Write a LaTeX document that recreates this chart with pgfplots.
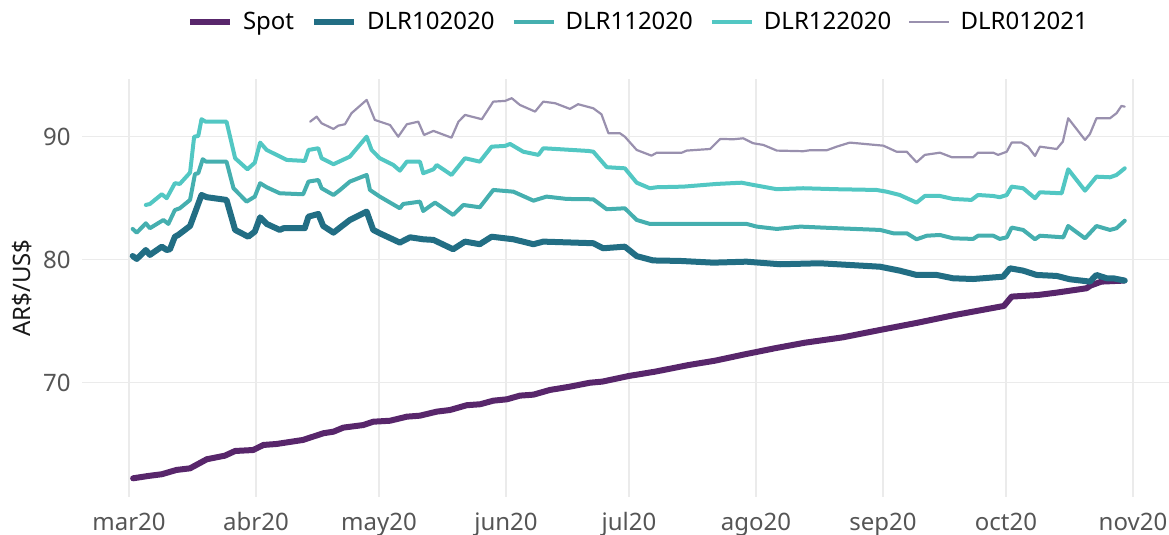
\documentclass[border=0pt]{standalone}
\usepackage{pgfplots}
\pgfplotsset{compat=1.18}
\usepackage{fontspec}
\setmainfont{Noto Sans}
\definecolor{cspot}{HTML}{58266B}
\definecolor{cten}{HTML}{226E84}
\definecolor{celev}{HTML}{45AFAF}
\definecolor{ctwel}{HTML}{52C7C3}
\definecolor{cjan}{HTML}{9990AE}
\definecolor{gridgray}{HTML}{EBEBEB}
\definecolor{tickgray}{HTML}{555555}
\begin{document}
\fontsize{12bp}{14bp}\selectfont
\begin{tikzpicture}
\begin{axis}[
  scale only axis, width=543.5bp, height=209bp,
  at={(0,0)}, anchor=south west,
  xmin=-11.47, xmax=253.8, ymin=60.69, ymax=94.67,
  axis line style={draw=none}, tick style={draw=none},
  xtick={0,31,61,92,122,153,184,214,245},
  xticklabels={mar20,abr20,may20,jun20,jul20,ago20,sep20,oct20,nov20},
  ytick={70,80,90}, yticklabels={70,80,90},
  /pgf/number format/assume math mode=true,
  grid=major, grid style={color=gridgray, line width=0.9bp},
  xticklabel style={font=\fontsize{12bp}{14bp}\selectfont, text=tickgray, inner sep=0pt, anchor=base, yshift=-16.5bp},
  yticklabel style={font=\fontsize{12bp}{14bp}\selectfont, text=tickgray, inner sep=0pt, anchor=east, xshift=-5.5bp},
  ylabel={AR\$/US\$},
  every axis y label/.style={at={(axis description cs:-0.0552,0.5)}, rotate=90, anchor=center, font=\fontsize{12bp}{14bp}\selectfont, text=black!90},
  legend columns=5,
  legend style={at={(axis description cs:0.511,1.136)}, anchor=center, draw=none, fill=none,
    font=\fontsize{12bp}{14bp}\selectfont,
    /tikz/every even column/.append style={column sep=8.5bp},
    /tikz/every odd column/.append style={column sep=5bp},
    nodes={inner sep=0pt}},
  legend image code/.code={\draw[#1, line cap=butt] (0bp,0bp) -- (20bp,0bp);},
  every axis plot/.append style={line join=round, line cap=round},
]
\addplot[cspot, line width=3bp] coordinates {
(1.0,62.21)(4.7,62.40)(8.0,62.54)(11.6,62.89)(14.9,63.02)(19.0,63.76)(23.4,64.05)(25.9,64.43)(30.3,64.51)(32.8,64.92)(36.0,65.00)(42.5,65.33)(47.4,65.87)(49.9,66.00)(52.3,66.33)(57.2,66.54)(59.6,66.81)(63.7,66.89)(67.8,67.22)(71.0,67.30)(75.1,67.63)(78.3,67.76)(82.4,68.15)(85.7,68.23)(88.9,68.52)(92.2,68.63)(95.4,68.93)(98.7,69.01)(102.7,69.39)(107.6,69.66)(112.5,69.98)(115.5,70.07)(122.0,70.53)(128.4,70.88)(136.6,71.42)(143.0,71.77)(150.3,72.29)(157.6,72.78)(164.9,73.23)(174.2,73.67)(183.3,74.27)(192.5,74.86)(201.6,75.49)(213.5,76.22)(215.4,76.98)(221.8,77.11)(226.3,77.30)(233.7,77.66)(234.6,77.87)(237.3,78.20)(242.8,78.28)
};
\addlegendentry{Spot}
\addplot[cten, line width=3bp] coordinates {
(0.9,80.28)(1.9,80.04)(4.1,80.77)(5.1,80.37)(8.0,81.04)(9.2,80.77)(10.0,80.83)(11.2,81.85)(12.0,81.99)(14.9,82.72)(17.7,85.24)(19.0,85.06)(23.8,84.84)(25.9,82.40)(29.1,81.85)(30.7,82.26)(32.0,83.43)(33.6,82.89)(36.8,82.40)(37.7,82.54)(42.9,82.54)(43.8,83.48)(46.2,83.70)(47.4,82.72)(49.9,82.18)(53.9,83.21)(58.0,83.89)(59.6,82.40)(61.2,82.13)(66.1,81.37)(68.6,81.80)(71.8,81.64)(74.3,81.59)(79.1,80.83)(82.0,81.45)(85.6,81.24)(88.5,81.85)(93.8,81.64)(98.7,81.24)(101.1,81.45)(113.3,81.32)(115.7,80.91)(121.0,81.04)(123.9,80.27)(127.9,79.92)(134.5,79.88)(142.6,79.74)(150.7,79.82)(158.9,79.61)(168.6,79.69)(183.3,79.41)(188.1,79.09)(192.2,78.74)(197.1,78.74)(201.1,78.47)(206.0,78.41)(213.3,78.60)(215.0,79.28)(218.2,79.09)(221.5,78.74)(226.4,78.66)(229.6,78.39)(234.5,78.20)(236.1,78.74)(238.6,78.47)(240.2,78.47)(243.0,78.28)
};
\addlegendentry{DLR102020}
\addplot[celev, line width=2bp] coordinates {
(0.9,82.48)(1.9,82.18)(4.1,82.94)(5.1,82.54)(8.4,83.21)(9.6,82.89)(11.2,84.02)(12.4,84.16)(14.9,84.84)(16.1,86.95)(16.9,87.01)(18.0,88.15)(18.8,87.95)(23.8,87.95)(25.5,85.79)(28.7,84.70)(30.7,85.11)(32.0,86.20)(33.6,85.87)(36.8,85.38)(42.5,85.30)(43.8,86.33)(46.2,86.46)(47.0,85.79)(49.9,85.24)(51.5,85.65)(53.9,86.33)(58.0,86.87)(58.8,85.65)(61.2,85.11)(66.1,84.16)(66.9,84.51)(71.0,84.70)(71.8,83.94)(73.5,84.35)(74.7,84.62)(79.1,83.62)(81.6,84.43)(85.6,84.24)(88.9,85.65)(93.8,85.51)(98.7,84.78)(101.9,85.11)(106.8,84.92)(113.3,84.89)(116.6,84.08)(121.0,84.16)(123.9,83.21)(127.1,82.89)(134.5,82.89)(150.7,82.89)(153.2,82.67)(158.1,82.48)(163.8,82.67)(172.7,82.54)(183.3,82.40)(186.5,82.13)(189.8,82.13)(192.2,81.64)(194.7,81.93)(197.9,81.99)(201.1,81.72)(206.0,81.67)(207.2,81.93)(210.9,81.93)(212.5,81.67)(214.2,81.80)(215.4,82.59)(218.2,82.40)(221.1,81.64)(222.3,81.93)(228.0,81.80)(229.2,82.72)(233.3,81.72)(236.1,82.72)(239.4,82.40)(241.0,82.54)(243.0,83.15)
};
\addlegendentry{DLR112020}
\addplot[ctwel, line width=2bp] coordinates {
(4.1,84.43)(5.1,84.51)(8.0,85.30)(9.2,84.98)(11.2,86.20)(12.4,86.14)(14.9,87.06)(15.9,89.98)(16.9,90.04)(17.7,91.40)(18.7,91.20)(23.8,91.20)(25.9,88.23)(28.9,87.33)(30.7,87.87)(32.0,89.50)(33.6,88.90)(38.5,88.09)(42.9,88.01)(43.8,88.90)(46.2,89.04)(47.0,88.23)(49.9,87.74)(53.9,88.36)(58.0,89.98)(59.2,88.90)(61.2,88.23)(64.5,87.68)(66.1,87.22)(67.8,87.95)(71.0,87.95)(71.8,87.01)(74.3,87.33)(75.1,87.68)(78.7,86.87)(82.0,88.23)(85.6,87.95)(88.5,89.17)(91.8,89.23)(93.0,89.39)(96.2,88.76)(99.9,88.50)(101.1,89.04)(105.2,88.96)(112.1,88.82)(113.3,88.76)(116.6,87.50)(121.0,87.41)(123.9,86.24)(127.1,85.79)(128.8,85.87)(135.3,85.92)(143.4,86.14)(149.5,86.24)(152.3,86.06)(158.1,85.71)(164.5,85.79)(172.7,85.71)(182.4,85.65)(184.9,85.51)(188.1,85.24)(192.2,84.62)(194.2,85.16)(197.9,85.16)(201.1,84.92)(205.6,84.84)(207.2,85.24)(210.9,85.16)(212.5,85.06)(214.2,85.24)(215.4,85.92)(218.2,85.79)(221.1,84.98)(222.3,85.46)(227.6,85.38)(229.2,87.33)(233.3,85.59)(236.1,86.73)(239.4,86.68)(241.0,86.87)(243.0,87.41)
};
\addlegendentry{DLR122020}
\addplot[cjan, line width=1.1bp] coordinates {
(44.2,91.20)(45.8,91.61)(47.0,91.07)(49.9,90.61)(51.1,90.88)(52.7,90.99)(54.3,91.89)(58.0,92.97)(60.0,91.34)(63.7,90.93)(65.7,89.98)(67.8,90.99)(70.6,91.20)(72.0,90.12)(74.3,90.45)(78.7,89.90)(80.4,91.20)(82.0,91.75)(86.1,91.40)(88.9,92.83)(91.8,92.89)(93.4,93.11)(95.4,92.56)(99.1,92.02)(101.1,92.83)(104.0,92.70)(107.6,92.24)(109.6,92.62)(113.3,92.29)(115.3,91.80)(117.0,90.26)(119.8,90.26)(121.0,89.98)(123.9,88.90)(127.5,88.44)(128.8,88.68)(134.9,88.68)(136.1,88.85)(141.8,88.98)(144.3,89.80)(147.5,89.77)(149.9,89.85)(152.3,89.45)(154.8,89.31)(158.1,88.85)(164.5,88.80)(166.2,88.88)(170.3,88.88)(172.7,89.17)(175.9,89.50)(184.1,89.25)(187.3,88.76)(189.8,88.76)(192.2,87.90)(194.2,88.50)(197.9,88.68)(200.8,88.31)(206.0,88.31)(207.2,88.68)(210.9,88.68)(212.1,88.50)(214.2,88.76)(215.4,89.50)(217.8,89.50)(219.4,89.17)(221.1,88.41)(222.3,89.17)(226.4,88.98)(227.9,89.58)(229.2,91.48)(233.3,89.72)(234.5,90.20)(236.1,91.48)(239.4,91.48)(241.0,91.89)(242.2,92.48)(243.0,92.42)
};
\addlegendentry{DLR012021}
\end{axis}
\pgfresetboundingbox
\path[use as bounding box] (-41bp,-19bp) rectangle (543.5bp,248.5bp);
\end{tikzpicture}
\end{document}
